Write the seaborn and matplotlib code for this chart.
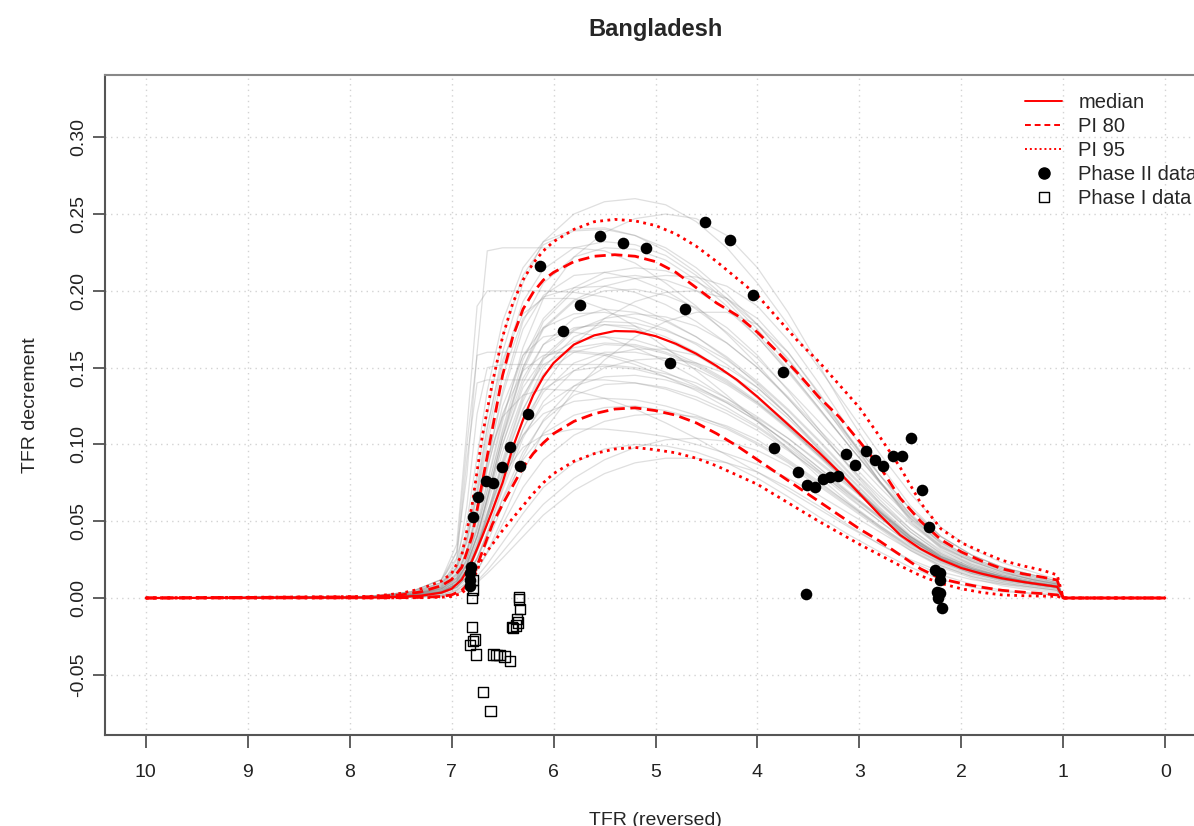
import matplotlib
matplotlib.use("Agg")

import matplotlib.pyplot as plt
from matplotlib.lines import Line2D
import pandas as pd
import seaborn as sns

# -- data ------------------------------------------------------------
# TFR grid for the summary curves (median / PIs)
red_grid = [10.0, 7.8, 7.5, 7.3, 7.1, 7.0, 6.9, 6.8, 6.7, 6.6, 6.5, 6.4, 6.3, 6.2, 6.1, 6.0,
            5.8, 5.6, 5.4, 5.2, 5.0, 4.8, 4.6, 4.4, 4.2, 4.0, 3.8, 3.6, 3.4, 3.2, 3.0, 2.8,
            2.6, 2.4, 2.2, 2.0, 1.8, 1.6, 1.4, 1.2, 1.06, 1.0, 0.0]

median = [0, .0003, .0008, .0015, .0035, .006, .012, .024, .040, .057, .075, .098, .116, .132,
          .144, .153, .165, .171, .1738, .1735, .1705, .1655, .159, .151, .142, .131, .119, .107,
          .095, .082, .068, .054, .041, .032, .025, .0195, .0158, .0128, .0105, .0086, .0073, 0, 0]
pi80_up = [0, .0008, .002, .004, .008, .012, .020, .040, .075, .110, .145, .170, .188, .199,
           .207, .212, .219, .2225, .2235, .2225, .219, .212, .202, .192, .184, .173, .160, .146,
           .131, .118, .102, .0855, .065, .050, .038, .030, .024, .019, .0158, .0135, .0117, 0, 0]
pi80_lo = [0, .0001, .0002, .0004, .001, .002, .005, .012, .030, .048, .061, .073, .085, .094,
           .101, .107, .115, .120, .123, .1238, .122, .119, .114, .107, .099, .090, .081, .072,
           .063, .054, .045, .037, .028, .019, .0125, .0095, .007, .005, .0038, .0028, .002, 0, 0]
pi95_up = [0, .001, .003, .006, .011, .016, .028, .060, .105, .140, .170, .192, .207, .218,
           .226, .232, .240, .245, .2465, .2455, .2425, .237, .229, .219, .208, .197, .182, .167,
           .154, .139, .124, .105, .085, .062, .045, .036, .030, .0245, .021, .018, .015, 0, 0]
pi95_lo = [0, 0, .0001, .0002, .0005, .001, .003, .010, .026, .035, .044, .052, .060, .068,
           .075, .081, .089, .094, .097, .098, .0965, .0945, .091, .086, .080, .074, .066, .058,
           .050, .0425, .035, .028, .021, .0145, .0095, .006, .0036, .002, .0015, .0012, .001, 0, 0]

# TFR grid for the sampled trajectories (gray)
tfr_grid = [10.0, 7.8, 7.4, 7.1, 6.95, 6.85, 6.75, 6.65, 6.5, 6.3, 6.1, 5.8, 5.5, 5.2, 4.9,
            4.6, 4.3, 4.0, 3.7, 3.4, 3.1, 2.8, 2.5, 2.2, 1.9, 1.6, 1.3, 1.06, 1.0, 0.0]

gray_paths = [
    [0, .001, .004, .010, .020, .038, .070, .110, .160, .205, .232, .250, .258, .260, .256, .245, .228, .205, .178, .150, .122, .094, .068, .046, .032, .023, .017, .012, 0, 0],
    [0, .001, .004, .012, .026, .050, .092, .135, .180, .215, .232, .240, .241, .236, .226, .212, .195, .175, .152, .128, .104, .080, .058, .040, .028, .020, .015, .011, 0, 0],
    [0, .0008, .003, .008, .016, .030, .055, .088, .135, .180, .205, .222, .228, .227, .220, .207, .190, .170, .147, .123, .099, .076, .055, .037, .026, .019, .014, .010, 0, 0],
    [0, .0004, .0015, .004, .009, .018, .033, .052, .085, .122, .150, .170, .178, .177, .170, .160, .147, .130, .112, .093, .074, .055, .038, .026, .018, .013, .010, .0075, 0, 0],
    [0, .0003, .0012, .0035, .008, .016, .030, .048, .078, .110, .134, .153, .160, .160, .156, .149, .139, .126, .110, .092, .073, .055, .038, .026, .018, .013, .009, .007, 0, 0],
    [0, .0001, .0005, .0015, .004, .008, .014, .022, .036, .055, .072, .088, .097, .100, .099, .095, .088, .078, .066, .053, .041, .030, .020, .012, .007, .004, .003, .002, 0, 0],
    [0, .0001, .0004, .001, .003, .006, .010, .016, .026, .040, .054, .070, .081, .088, .091, .091, .088, .082, .072, .060, .047, .035, .024, .015, .009, .005, .003, .002, 0, 0],
    [0, .001, .004, .012, .030, .080, .160, .226, .228, .228, .228, .228, .226, .218, .205, .190, .172, .152, .130, .108, .086, .066, .048, .033, .024, .017, .012, .009, 0, 0],
    [0, .0008, .003, .010, .030, .100, .158, .160, .160, .160, .160, .160, .158, .152, .144, .135, .124, .112, .098, .083, .068, .053, .039, .027, .019, .014, .010, .008, 0, 0],
    [0, .0005, .002, .007, .020, .060, .120, .150, .152, .152, .152, .152, .152, .150, .146, .140, .130, .118, .104, .088, .072, .056, .040, .028, .020, .014, .010, .0075, 0, 0],
    [0, .0006, .002, .006, .012, .022, .040, .065, .105, .150, .180, .200, .208, .210, .207, .200, .188, .170, .148, .124, .099, .075, .053, .036, .025, .018, .013, .010, 0, 0],
    [0, .0005, .002, .005, .011, .022, .040, .063, .100, .140, .165, .182, .188, .186, .180, .170, .156, .139, .119, .098, .078, .058, .040, .027, .019, .014, .010, .0078, 0, 0],
    [0, .0003, .001, .003, .007, .014, .025, .040, .065, .095, .115, .132, .139, .140, .137, .131, .122, .111, .097, .081, .065, .050, .035, .024, .016, .011, .008, .006, 0, 0],
    [0, .0002, .0008, .002, .005, .010, .018, .029, .048, .072, .090, .106, .115, .119, .120, .118, .112, .103, .090, .076, .061, .046, .032, .021, .014, .009, .006, .004, 0, 0],
    [0, .0005, .002, .006, .013, .025, .045, .070, .108, .150, .176, .194, .203, .208, .210, .209, .203, .190, .168, .140, .110, .080, .054, .035, .024, .017, .012, .009, 0, 0],
    [0, .0006, .002, .006, .013, .025, .046, .074, .115, .163, .195, .222, .238, .247, .250, .247, .236, .215, .186, .152, .118, .087, .060, .040, .028, .020, .015, .011, 0, 0],
    [0, .0006, .002, .006, .014, .028, .052, .083, .125, .158, .170, .173, .170, .163, .154, .143, .130, .116, .100, .083, .066, .050, .035, .024, .017, .012, .009, .007, 0, 0],
    [0, .0008, .003, .009, .020, .040, .074, .112, .155, .185, .195, .195, .188, .177, .163, .148, .132, .115, .097, .079, .062, .047, .033, .023, .016, .012, .009, .007, 0, 0],
    [0, .0006, .002, .007, .016, .032, .060, .090, .118, .132, .136, .135, .130, .123, .114, .104, .093, .082, .070, .058, .046, .035, .025, .017, .012, .009, .007, .005, 0, 0],
    [0, .0004, .0015, .004, .009, .018, .032, .052, .082, .115, .136, .148, .151, .149, .144, .137, .128, .117, .104, .089, .073, .056, .040, .027, .019, .013, .010, .0075, 0, 0],
    [0, .0007, .0025, .007, .015, .030, .056, .088, .132, .175, .197, .210, .212, .208, .200, .188, .173, .156, .136, .115, .093, .072, .052, .036, .025, .018, .013, .0095, 0, 0],
    [0, .0004, .0015, .004, .009, .018, .033, .054, .088, .128, .155, .174, .182, .185, .183, .177, .166, .150, .130, .108, .086, .064, .045, .030, .021, .015, .011, .008, 0, 0],
    [0, .0004, .0015, .004, .010, .020, .036, .056, .080, .098, .106, .110, .110, .108, .105, .100, .094, .087, .078, .067, .055, .043, .031, .021, .014, .010, .007, .005, 0, 0],
    [0, .0003, .001, .003, .007, .014, .026, .042, .070, .104, .128, .148, .158, .162, .162, .158, .150, .137, .119, .097, .075, .054, .036, .024, .017, .012, .009, .007, 0, 0],
    [0, .0008, .003, .009, .019, .037, .068, .105, .152, .193, .214, .228, .232, .230, .223, .210, .193, .172, .149, .124, .099, .075, .054, .037, .026, .019, .014, .010, 0, 0],
    [0, .0003, .001, .003, .007, .014, .026, .041, .064, .090, .107, .119, .124, .125, .122, .117, .110, .100, .088, .074, .060, .046, .033, .022, .015, .010, .007, .005, 0, 0],
    [0, .0005, .002, .005, .011, .022, .041, .066, .104, .143, .165, .176, .178, .175, .168, .158, .146, .131, .114, .095, .076, .057, .040, .027, .019, .014, .010, .0078, 0, 0],
    [0, .0003, .001, .003, .007, .014, .026, .043, .072, .110, .138, .165, .182, .193, .199, .200, .195, .182, .160, .133, .104, .076, .051, .033, .022, .015, .011, .008, 0, 0],
    [0, .0005, .002, .008, .025, .090, .140, .142, .142, .142, .142, .142, .142, .140, .136, .129, .120, .109, .096, .082, .067, .052, .038, .026, .018, .013, .009, .007, 0, 0],
    [0, .0004, .0015, .0045, .010, .020, .037, .060, .095, .132, .152, .163, .166, .165, .160, .152, .141, .127, .111, .093, .075, .057, .040, .027, .019, .013, .010, .0075, 0, 0],
    [0, .0007, .0025, .008, .018, .036, .066, .100, .145, .182, .196, .202, .203, .199, .191, .180, .166, .150, .131, .110, .089, .068, .049, .034, .024, .017, .012, .009, 0, 0],
    [0, .0005, .002, .006, .013, .026, .048, .076, .118, .158, .176, .185, .186, .182, .175, .165, .152, .137, .119, .099, .079, .059, .041, .028, .019, .014, .010, .0075, 0, 0],
    [0, .0003, .001, .003, .006, .012, .022, .036, .060, .092, .116, .138, .150, .155, .156, .153, .146, .134, .117, .097, .076, .056, .038, .025, .017, .012, .009, .0068, 0, 0],
    [0, .0005, .0018, .005, .011, .022, .040, .064, .100, .137, .156, .167, .170, .168, .162, .153, .142, .128, .112, .094, .075, .056, .039, .026, .018, .013, .0095, .0072, 0, 0],
    [0, .0005, .002, .006, .012, .024, .044, .070, .110, .155, .182, .202, .212, .215, .213, .206, .195, .178, .156, .130, .102, .076, .052, .034, .023, .016, .012, .009, 0, 0],
    [0, .0004, .0015, .004, .009, .018, .033, .052, .080, .106, .120, .128, .130, .129, .125, .119, .111, .101, .089, .075, .061, .047, .034, .023, .016, .011, .008, .006, 0, 0],
    [0, .0002, .0008, .002, .005, .010, .018, .030, .052, .082, .108, .135, .155, .170, .180, .186, .186, .178, .160, .134, .105, .076, .050, .032, .021, .015, .011, .008, 0, 0],
    [0, .0006, .002, .007, .015, .030, .056, .085, .120, .148, .158, .161, .159, .154, .147, .138, .127, .115, .101, .085, .069, .053, .038, .026, .018, .013, .0095, .0072, 0, 0],
    [0, .0004, .0014, .004, .009, .017, .031, .049, .076, .106, .125, .138, .144, .145, .142, .136, .127, .115, .101, .085, .068, .052, .037, .025, .017, .012, .0088, .0066, 0, 0],
    [0, .0009, .0035, .010, .022, .043, .080, .120, .170, .210, .230, .239, .240, .236, .228, .215, .198, .178, .155, .130, .105, .080, .058, .040, .028, .020, .015, .011, 0, 0],
    [0, .001, .004, .012, .035, .110, .190, .200, .200, .200, .200, .199, .196, .190, .181, .170, .157, .141, .123, .103, .082, .062, .045, .031, .022, .016, .012, .009, 0, 0],
    [0, .0004, .0015, .004, .009, .018, .034, .055, .090, .130, .157, .175, .180, .179, .174, .166, .155, .140, .122, .102, .081, .061, .043, .029, .020, .014, .010, .0078, 0, 0],
    [0, .0001, .0005, .0015, .003, .006, .011, .018, .030, .046, .061, .078, .090, .098, .103, .104, .102, .096, .086, .073, .059, .045, .031, .020, .013, .008, .005, .003, 0, 0],
    [0, .0005, .0018, .005, .011, .022, .040, .065, .105, .148, .175, .193, .200, .201, .197, .189, .176, .158, .135, .110, .085, .062, .043, .029, .020, .014, .010, .008, 0, 0],
    [0, .0004, .0015, .004, .009, .018, .034, .054, .087, .123, .146, .160, .165, .164, .159, .151, .140, .127, .111, .093, .075, .056, .039, .026, .018, .013, .0095, .0072, 0, 0],
]

# observed data
phase2_tfr = [6.81, 6.82, 6.82, 6.82, 6.79, 6.74, 6.66, 6.59, 6.51, 6.43, 6.33, 6.25, 6.13, 5.91,
              5.74, 5.54, 5.32, 5.09, 4.86, 4.71, 4.51, 4.27, 4.04, 3.75, 3.84, 3.60, 3.51, 3.44,
              3.36, 3.29, 3.21, 3.13, 3.04, 2.94, 2.85, 2.77, 2.67, 2.58, 2.49, 2.39, 2.32, 2.26,
              2.21, 2.21, 2.24, 2.21, 2.23, 2.19, 3.52]
phase2_dec = [.020, .016, .012, .008, .053, .066, .076, .075, .0855, .098, .086, .120, .216, .174,
              .191, .236, .231, .228, .153, .188, .245, .233, .197, .147, .0975, .082, .0735, .0725,
              .0773, .0786, .0794, .0938, .0866, .0957, .0898, .0859, .0924, .0924, .1044, .0703, .046, .018,
              .016, .0117, .004, .0033, .0, -.0065, .0026]

phase1_tfr = [6.79, 6.79, 6.80, 6.34, 6.34, 6.33, 6.36, 6.35, 6.37, 6.41, 6.40, 6.80, 6.77, 6.79,
              6.82, 6.76, 6.59, 6.56, 6.53, 6.48, 6.43, 6.69, 6.62]
phase1_dec = [.0117, .005, .000, .0007, -.001, -.007, -.0137, -.016, -.018, -.019, -.0195, -.019,
              -.027, -.028, -.0306, -.0367, -.0367, -.037, -.037, -.038, -.041, -.0614, -.0734]

x_ticks = [10, 9, 8, 7, 6, 5, 4, 3, 2, 1, 0]
y_ticks = [-0.05, 0.00, 0.05, 0.10, 0.15, 0.20, 0.25, 0.30]

# -- style -----------------------------------------------------------
sns.set_theme(style="white")
plt.rcParams["font.family"] = ["Liberation Sans", "DejaVu Sans"]

fig = plt.figure(figsize=(11.94, 8.26), dpi=100)
# plot box runs past the right edge, as in the cropped reference
ax = fig.add_axes([105 / 1194, 91 / 826, 1101 / 1194, 660 / 826])

gray_df = pd.DataFrame(
    [(i, t, v) for i, row in enumerate(gray_paths) for t, v in zip(tfr_grid, row)],
    columns=["traj", "tfr", "dec"],
)
sns.lineplot(data=gray_df, x="tfr", y="dec", units="traj", estimator=None,
             color="#8c8c8c", alpha=0.28, lw=0.9, sort=False, ax=ax, legend=False)

red = "#ff0000"
dotted = (0, (1, 1.6))
dashed = (0, (4, 2))
sns.lineplot(x=red_grid, y=pi95_up, color=red, lw=2.0, linestyle=dotted, sort=False, ax=ax)
sns.lineplot(x=red_grid, y=pi95_lo, color=red, lw=2.0, linestyle=dotted, sort=False, ax=ax)
sns.lineplot(x=red_grid, y=pi80_up, color=red, lw=2.0, linestyle=dashed, sort=False, ax=ax)
sns.lineplot(x=red_grid, y=pi80_lo, color=red, lw=2.0, linestyle=dashed, sort=False, ax=ax)
sns.lineplot(x=red_grid, y=median, color=red, lw=1.6, sort=False, ax=ax)

sns.scatterplot(x=phase1_tfr, y=phase1_dec, marker="s", s=55, facecolor="none",
                edgecolor="black", linewidth=1.0, ax=ax, zorder=4)
sns.scatterplot(x=phase2_tfr, y=phase2_dec, marker="o", s=70, color="black",
                edgecolor="black", linewidth=0, ax=ax, zorder=5)

ax.set_xlim(10.4, -0.4)
ax.set_ylim(-0.0892, 0.3405)
ax.set_xticks(x_ticks)
ax.set_xticklabels([str(v) for v in x_ticks])
ax.set_yticks(y_ticks)
ax.set_yticklabels([f"{v:.2f}" for v in y_ticks], rotation=90, va="center")

for v in x_ticks:
    ax.axvline(v, color="#d3d3d3", lw=1.0, linestyle=(0, (1, 3)), zorder=0)
for v in y_ticks:
    ax.axhline(v, color="#d3d3d3", lw=1.0, linestyle=(0, (1, 3)), zorder=0)

ax.tick_params(axis="both", direction="out", length=9, width=1.2, color="#444444",
               labelsize=14, labelcolor="#222222", bottom=True, left=True)
ax.tick_params(axis="x", pad=12)
ax.tick_params(axis="y", pad=4)
for sp in ax.spines.values():
    sp.set_color("#555555")
    sp.set_linewidth(1.5)
ax.spines["top"].set_color("#888888")

ax.set_title("Bangladesh", fontsize=17, fontweight="bold", pad=28)
ax.set_xlabel("TFR (reversed)", fontsize=14, labelpad=22)
ax.set_ylabel("TFR decrement", fontsize=14, labelpad=22)

handles = [
    Line2D([], [], color=red, lw=1.4),
    Line2D([], [], color=red, lw=1.4, linestyle=(0, (3, 2))),
    Line2D([], [], color=red, lw=1.4, linestyle=(0, (1, 1.5))),
    Line2D([], [], color="black", marker="o", linestyle="none", markersize=8),
    Line2D([], [], color="black", marker="s", linestyle="none", markersize=7,
           markerfacecolor="none", markeredgewidth=1.0),
]
labels = ["median", "PI 80", "PI 95", "Phase II data", "Phase I data"]
ax.legend(handles, labels, loc="upper left", bbox_to_anchor=(1025 / 1194, 1 - 93 / 826),
          bbox_transform=fig.transFigure, frameon=False, fontsize=14.5, borderpad=0,
          handlelength=1.85, handletextpad=0.8, labelspacing=0.25, borderaxespad=0)

fig.savefig("out.png", dpi=100)
